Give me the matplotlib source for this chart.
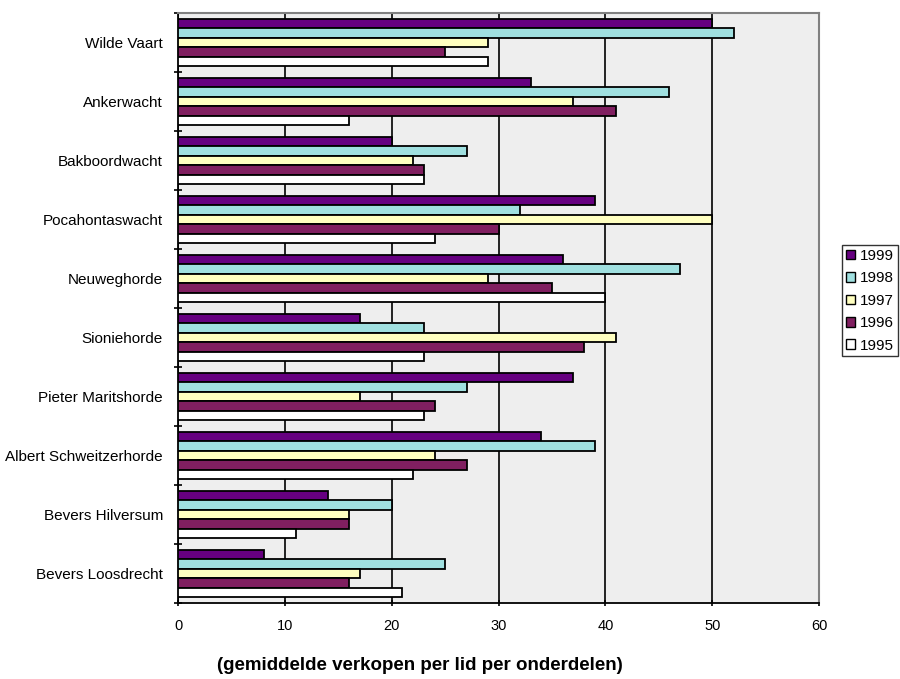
import numpy as np
import matplotlib.pyplot as plt
from matplotlib.patches import Patch

categories = ['Wilde Vaart', 'Ankerwacht', 'Bakboordwacht', 'Pocahontaswacht', 'Neuweghorde',
              'Sioniehorde', 'Pieter Maritshorde', 'Albert Schweitzerhorde', 'Bevers Hilversum',
              'Bevers Loosdrecht']
years = ['1999', '1998', '1997', '1996', '1995']
v1999 = [50, 33, 20, 39, 36, 17, 37, 34, 14, 8]
v1998 = [52, 46, 27, 32, 47, 23, 27, 39, 20, 25]
v1997 = [29, 37, 22, 50, 29, 41, 17, 24, 16, 17]
v1996 = [25, 41, 23, 30, 35, 38, 24, 27, 16, 16]
v1995 = [29, 16, 23, 24, 40, 23, 23, 22, 11, 21]
kleuren = ['#660080', '#A0E0E0', '#FFFFC0', '#801F60', '#FFFFFF']

plt.rcParams['font.family'] = ['Liberation Sans', 'DejaVu Sans']

fig = plt.figure(figsize=(9, 6.79), dpi=100)
ax = fig.add_axes([0.198, 0.112, 0.712, 0.869])
ax.set_facecolor('#EEEEEE')

reeksen = [v1999, v1998, v1997, v1996, v1995]
n = len(categories)
pos = np.arange(n)
h = 0.16
for i, (jaar, waarden) in enumerate(zip(years, reeksen)):
    y = pos + (i - 2) * h
    ax.barh(y, waarden, height=h, color=kleuren[i], edgecolor='black', linewidth=1.3,
            label=jaar, zorder=3)

ax.set_ylim(n - 0.5, -0.5)
ax.set_xlim(0, 60)
ax.set_xticks(range(0, 61, 10))
ax.xaxis.grid(True, color='black', linewidth=1.2, zorder=1)
ax.set_yticks(pos)
ax.set_yticklabels(categories, fontsize=11)
ax.set_yticks(np.arange(-0.5, n, 1), minor=True)
ax.tick_params(axis='y', which='major', length=0, pad=11)
ax.tick_params(axis='y', which='minor', length=6, direction='inout', width=1.2)
ax.tick_params(axis='x', labelsize=10.5, length=5, direction='inout', width=1.2, pad=9)

for s in ['top', 'right']:
    ax.spines[s].set_color('#808080')
    ax.spines[s].set_linewidth(1.5)
for s in ['left', 'bottom']:
    ax.spines[s].set_color('black')
    ax.spines[s].set_linewidth(1.3)

handles = [Patch(facecolor=kleuren[i], edgecolor='black', label=years[i]) for i in range(5)]
leg = fig.legend(handles=handles, loc='center left', bbox_to_anchor=(0.936, 0.557),
                 frameon=True, fancybox=False, edgecolor='black', fontsize=11,
                 handlelength=0.6, handleheight=0.6, handletextpad=0.3,
                 labelspacing=0.55, borderpad=0.25, borderaxespad=0)
leg.get_frame().set_linewidth(1.0)

fig.text(420 / 900, 1 - 666 / 679, '(gemiddelde verkopen per lid per onderdelen)',
         ha='center', va='center', fontsize=13.5, fontweight='bold',
         family=['Liberation Sans Narrow', 'Liberation Sans'])

fig.savefig('out.png', dpi=100)
